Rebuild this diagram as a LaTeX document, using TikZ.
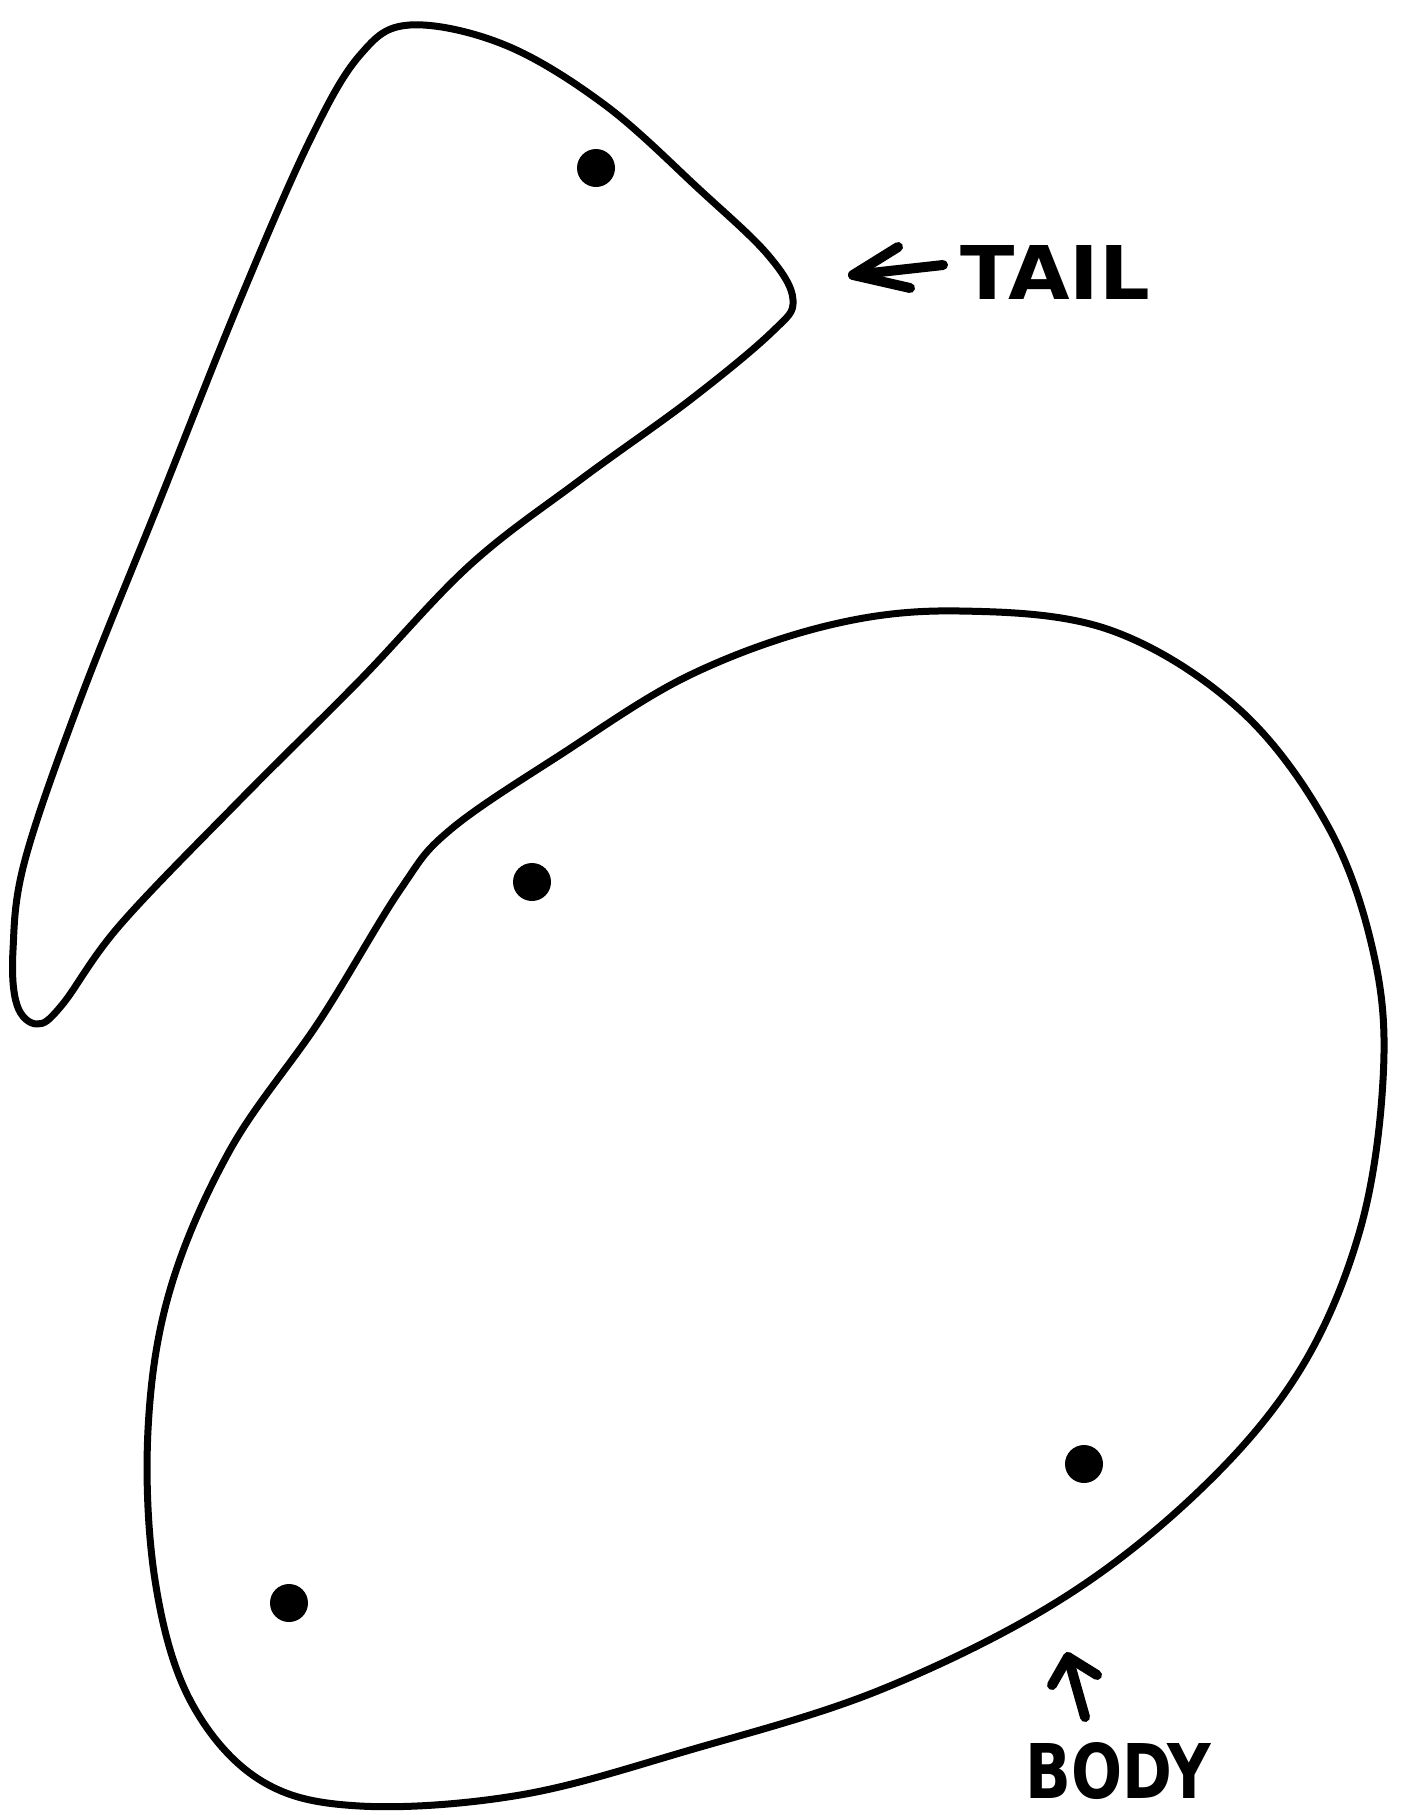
\documentclass[tikz,border=0pt]{standalone}
\usepackage{fontspec}
\usepackage{graphicx}
\setmainfont{DejaVu Sans}
\begin{document}
\begin{tikzpicture}[x=1pt,y=-1pt,
  outline/.style={line width=7pt, line join=round},
  hole/.style={fill=black},
  pointer/.style={line width=10pt, line cap=round, line join=round},
  lbl/.style={inner sep=0pt, font=\bfseries}]
\useasboundingbox (0,0) rectangle (1405,1815);
% tail piece
\draw[outline] plot[smooth cycle, tension=0.6] coordinates {
 (410,25) (505,45) (605,105) (700,190) (768,255) (793,300) (772,332)
 (690,400) (580,480) (470,565) (360,680) (240,800) (120,925) (62,1005)
 (37,1024) (17,1005) (13,950) (25,860) (80,700) (160,500) (240,300)
 (310,140) (360,55)};
% body piece
\draw[outline] plot[smooth cycle, tension=0.6] coordinates {
 (960,611) (1110,630) (1240,710) (1330,830) (1375,960) (1383,1080)
 (1360,1230) (1300,1370) (1200,1490) (1060,1600) (880,1690) (690,1750)
 (520,1795) (360,1806) (260,1780) (190,1700) (155,1580) (148,1430)
 (170,1290) (230,1150) (320,1020) (400,890) (450,830) (560,755)
 (690,675) (830,625)};
% holes
\fill[hole] (596,168) circle (19);
\fill[hole] (532,882) circle (19);
\fill[hole] (1084,1464) circle (19);
\fill[hole] (289,1603) circle (19);
% labels
\node[lbl, anchor=west] (tail) at (960,272) {\resizebox{190pt}{54pt}{TAIL}};
\node[lbl, anchor=south west] (body) at (1025,1800) {\resizebox{186pt}{56pt}{BODY}};
% arrows
\coordinate (tt) at (853,275);
\coordinate (bt) at (1068,1657);
\draw[pointer] (943,265) -- (tt);
\draw[pointer] (898,247) -- (tt) -- (910,288);
\draw[pointer] (1085,1717) -- (bt);
\draw[pointer] (1052,1685) -- (bt) -- (1097,1675);
\end{tikzpicture}
\end{document}
